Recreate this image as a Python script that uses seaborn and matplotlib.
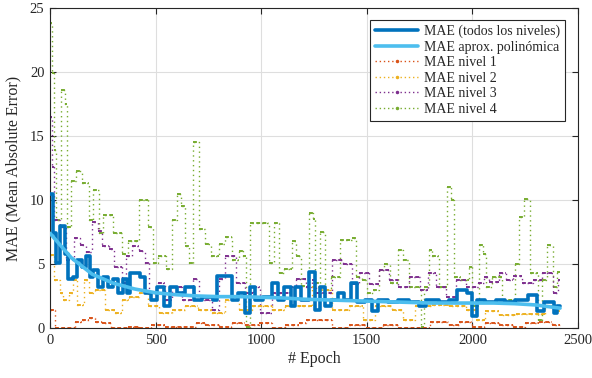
import numpy as np
import pandas as pd
import matplotlib
matplotlib.use("Agg")
import matplotlib.pyplot as plt
import seaborn as sns
from matplotlib.lines import Line2D

# ---------------- data ----------------
ep_total = [0, 16, 30, 47, 70, 85, 111, 126, 150, 170, 190, 205, 229, 253, 276, 300, 324, 347,
            363, 380, 426, 450, 480, 505, 540, 570, 600, 640, 680, 720, 770, 790, 860, 890, 925,
            945, 970, 1010, 1050, 1080, 1110, 1140, 1160, 1190, 1225, 1255, 1280, 1300, 1330,
            1365, 1390, 1425, 1455, 1490, 1525, 1555, 1600, 1650, 1700, 1745, 1780, 1840, 1890,
            1925, 1975, 2000, 2020, 2060, 2110, 2155, 2200, 2265, 2305, 2340, 2385, 2400, 2415]
mae_total = [10.5, 7.4, 5.1, 8.0, 5.8, 3.8, 4.0, 5.3, 4.8, 5.6, 4.0, 4.5, 3.2, 4.0, 3.2, 3.8, 2.7, 3.8,
             2.7, 4.3, 4.0, 2.7, 2.2, 3.2, 1.7, 3.2, 2.7, 3.2, 2.2, 2.4, 2.2, 4.1, 2.2, 2.7, 1.2,
             3.2, 2.2, 2.4, 3.5, 2.2, 3.2, 1.7, 3.2, 2.2, 4.4, 1.4, 3.2, 1.7, 2.2,
             2.7, 2.2, 3.5, 2.0, 2.2, 1.3, 2.2, 2.0, 2.2, 2.0, 1.7, 2.2, 2.0, 2.2,
             3.0, 2.7, 0.9, 2.2, 2.0, 2.2, 2.0, 2.2, 2.6, 1.3, 2.0, 1.2, 1.7, 1.7]

ep_poly = [0, 100, 200, 300, 400, 500, 600, 700, 800, 900, 1000, 1100, 1200, 1300, 1400, 1500,
           1600, 1700, 1800, 1900, 2000, 2100, 2200, 2300, 2415]
mae_poly = [7.4, 5.5, 4.2, 3.5, 3.05, 2.75, 2.6, 2.5, 2.45, 2.45, 2.4, 2.35, 2.25, 2.2, 2.15, 2.1,
            2.05, 2.0, 1.95, 1.95, 1.95, 1.95, 1.9, 1.8, 1.55]

ep_n1 = [0, 25, 120, 150, 185, 215, 245, 290, 370, 420, 480, 545, 690, 735, 800, 860, 925, 990,
         1050, 1115, 1180, 1210, 1335, 1415, 1495, 1575, 1650, 1800, 1890, 1935, 2000, 2060,
         2125, 2190, 2250, 2315, 2375, 2415]
mae_n1 = [1.4, 0.0, 0.5, 0.65, 0.8, 0.5, 0.4, 0.0, 0.1, 0.0, 0.25, 0.1, 0.4, 0.25, 0.1, 0.4, 0.25, 0.4,
          0.0, 0.25, 0.4, 0.65, 0.0, 0.25, 0.0, 0.25, 0.0, 0.5, 0.25, 0.5, 0.1, 0.4,
          0.25, 0.1, 0.4, 0.5, 0.25, 0.25]

ep_n2 = [0, 20, 45, 60, 90, 110, 130, 160, 185, 215, 260, 310, 340, 375, 420, 465, 515, 580, 640,
         700, 765, 830, 895, 955, 1050, 1115, 1195, 1240, 1275, 1335, 1415, 1480, 1540, 1620,
         1670, 1730, 1810, 1890, 1970, 2015, 2060, 2125, 2205, 2270, 2345, 2395, 2415]
mae_n2 = [5.7, 3.75, 2.7, 2.2, 2.7, 3.75, 1.8, 3.75, 2.7, 3.0, 1.4, 1.2, 2.2, 2.4, 2.7, 1.7, 1.2, 1.4, 1.7,
          1.4, 1.2, 2.2, 1.4, 1.7, 1.4, 1.7, 1.7, 3.2, 3.0, 1.4, 1.7, 0.6, 1.7, 1.4,
          0.6, 1.7, 1.8, 1.7, 1.4, 0.6, 1.3, 1.0, 1.1, 1.1, 1.7, 1.3, 1.3]

ep_n3 = [0, 10, 20, 45, 75, 115, 140, 170, 200, 225, 245, 280, 305, 340, 360, 390, 420, 450, 470,
         510, 545, 580, 625, 675, 705, 765, 800, 830, 880, 925, 960, 995, 1050, 1130, 1165, 1210,
         1240, 1260, 1335, 1385, 1430, 1465, 1510, 1560, 1605, 1650, 1700, 1750, 1790, 1830,
         1875, 1920, 1970, 2025, 2055, 2080, 2125, 2160, 2190, 2235, 2285, 2330, 2380, 2405, 2415]
mae_n3 = [16.5, 12.6, 8.4, 7.9, 5.3, 7.0, 6.5, 5.9, 8.3, 7.6, 6.4, 6.2, 4.8, 3.5, 5.6, 6.4, 6.0, 5.1, 2.7,
          3.5, 2.2, 3.2, 2.2, 3.8, 2.2, 1.4, 3.8, 5.6, 3.5, 2.7, 3.2, 1.2, 2.7, 3.2, 3.8, 3.2,
          3.75, 2.7, 5.3, 5.0, 3.4, 4.3, 3.4, 4.5, 3.75, 3.2, 4.0, 3.0, 4.3, 3.2,
          2.4, 3.75, 3.2, 3.5, 4.0, 3.6, 4.3, 3.75, 4.1, 3.5, 3.75, 4.3, 2.7, 3.75, 3.75]

ep_n4 = [0, 10, 20, 30, 50, 71, 79, 100, 125, 150, 185, 205, 230, 250, 300, 340, 370, 420, 465,
         490, 510, 550, 580, 600, 620, 640, 660, 679, 705, 735, 760, 800, 830, 860, 895, 915, 928,
         945, 1035, 1060, 1085, 1110, 1145, 1165, 1190, 1225, 1245, 1255, 1280, 1300, 1330,
         1375, 1430, 1450, 1475, 1500, 1530, 1560, 1580, 1610, 1650, 1670, 1700, 1755, 1770,
         1795, 1810, 1840, 1880, 1900, 1915, 1945, 1985, 2000, 2030, 2050, 2065, 2095, 2140,
         2200, 2220, 2245, 2275, 2310, 2330, 2355, 2380, 2400, 2415]
mae_n4 = [23.8, 19.9, 13.9, 8.4, 18.6, 17.5, 7.9, 11.5, 12.3, 11.3, 8.4, 10.8, 7.4, 8.8, 7.4, 5.8, 6.8, 10.0, 7.9,
          5.1, 5.6, 4.6, 8.4, 10.5, 9.5, 6.4, 5.1, 14.5, 7.7, 6.6, 5.6, 6.6, 7.1, 5.3, 6.0, 5.6, 0.1,
          8.2, 5.1, 8.2, 4.3, 4.6, 6.8, 5.6, 3.3, 9.0, 8.5, 3.5, 7.5, 3.0, 4.0,
          6.9, 7.0, 4.0, 3.75, 2.7, 3.0, 4.5, 5.0, 3.5, 6.1, 5.3, 3.2, 0.1, 3.2,
          6.1, 5.6, 3.2, 11.0, 10.0, 4.0, 3.75, 4.8, 1.7, 6.5, 5.8, 3.2, 4.0, 2.2,
          5.0, 8.7, 10.1, 4.3, 0.6, 3.75, 6.5, 3.2, 4.4, 4.4]

labels = ["MAE (todos los niveles)", "MAE aprox. polinómica",
          "MAE nivel 1", "MAE nivel 2", "MAE nivel 3", "MAE nivel 4"]
x_ticks = [0, 500, 1000, 1500, 2000, 2500]
y_ticks = [0, 5, 10, 15, 20, 25]

# ---------------- style ----------------
sns.set_theme(style="ticks")
plt.rcParams["font.family"] = ["Liberation Serif", "DejaVu Serif"]
plt.rcParams["mathtext.fontset"] = "stix"

c_total = "#0072BD"
c_poly = "#4DBEEE"
c_levels = ["#D95319", "#EDB120", "#7E2F8E", "#77AC30"]

fig = plt.figure(figsize=(5.92, 3.78), dpi=100)
ax = fig.add_axes([50 / 592, 1 - 328 / 378, 528 / 592, 320 / 378])

levels = [(ep_n1, mae_n1), (ep_n2, mae_n2), (ep_n3, mae_n3), (ep_n4, mae_n4)]
for (ep, val), col in zip(levels[::-1], c_levels[::-1]):
    df = pd.DataFrame({"epoch": ep, "mae": val})
    sns.lineplot(data=df, x="epoch", y="mae", ax=ax, color=col, estimator=None,
                 drawstyle="steps-post", linestyle=(0, (1, 2.5)), linewidth=1.0, zorder=2)
    ax.hlines(val[:-1], ep[:-1], ep[1:], colors=col, linestyles=(0, (2, 1.2)),
              linewidth=1.4, zorder=2)

df_t = pd.DataFrame({"epoch": ep_total, "mae": mae_total})
sns.lineplot(data=df_t, x="epoch", y="mae", ax=ax, color=c_total, estimator=None,
             drawstyle="steps-post", linewidth=2.6, zorder=3)
df_p = pd.DataFrame({"epoch": ep_poly, "mae": mae_poly})
sns.lineplot(data=df_p, x="epoch", y="mae", ax=ax, color=c_poly, estimator=None,
             linewidth=2.6, zorder=4)

ax.set_xlim(0, 2500)
ax.set_ylim(0, 25)
ax.set_xticks(x_ticks)
ax.set_yticks(y_ticks)
ax.grid(True, color="#dedede", linewidth=0.8)
ax.set_axisbelow(True)
ax.tick_params(direction="in", length=4, width=0.8, top=True, right=True,
               labelsize=10.5, colors="#262626", pad=4)
for s in ax.spines.values():
    s.set_color("#262626")
    s.set_linewidth(0.8)
ax.set_xlabel("# Epoch", fontsize=11.5, color="#262626", labelpad=3)
ax.set_ylabel("MAE (Mean Absolute Error)", fontsize=11.5, color="#262626", labelpad=6)

handles = [Line2D([], [], color=c_total, lw=2.6),
           Line2D([], [], color=c_poly, lw=2.6)]
for col in c_levels:
    handles.append(Line2D([], [], color=col, lw=1.0, linestyle=(0, (1, 2)),
                          marker=".", markersize=3))
leg = ax.legend(handles, labels, loc="upper right", bbox_to_anchor=(0.975, 0.963),
                fontsize=10, frameon=True, fancybox=False, framealpha=1,
                edgecolor="#262626", handlelength=3.1, handletextpad=0.4,
                labelspacing=0.18, borderpad=0.35, numpoints=1, borderaxespad=0)
leg.get_frame().set_linewidth(0.8)

fig.savefig("out.png", dpi=100)
